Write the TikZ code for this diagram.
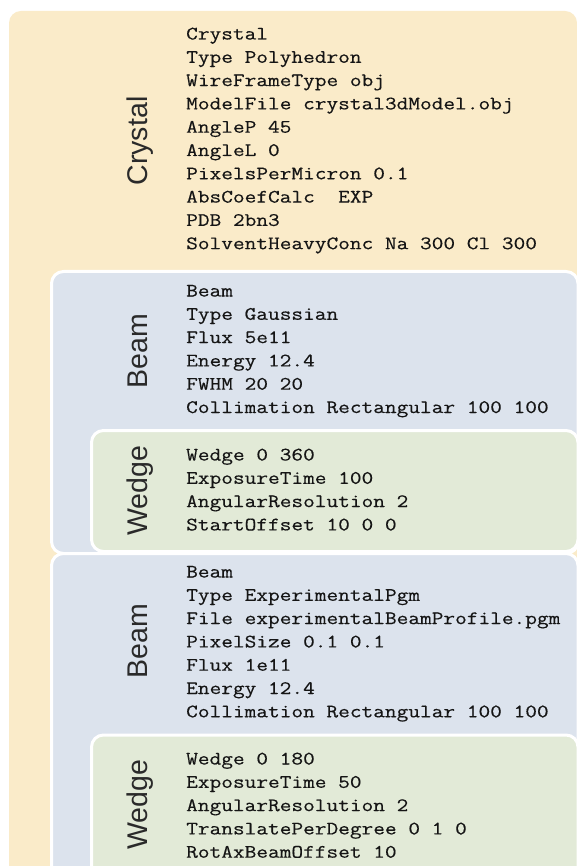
\documentclass[tikz,border=0pt]{standalone}
\usepackage{fontspec}
\setmainfont{Liberation Sans}
\setmonofont{Latin Modern Mono}[FakeStretch=1.195,FakeBold=0.4]
\definecolor{crystalcol}{HTML}{FAEBC9}
\definecolor{beamcol}{HTML}{DCE3ED}
\definecolor{wedgecol}{HTML}{E2EAD7}
\definecolor{txtcol}{HTML}{151515}
\definecolor{lblcol}{HTML}{2A2A2A}
\tikzset{
  panel/.style={rounded corners=12pt},
  inner/.style={panel, draw=white, line width=3pt},
  lbl/.style={rotate=90, anchor=base, inner sep=0pt, text=lblcol,
    font=\fontsize{28.5}{30}\selectfont},
  code/.style={anchor=base west, inner sep=0pt, text=txtcol},
}
\newcommand{\codeblock}[1]{\parbox[t]{385pt}{\raggedright\ttfamily\fontsize{19}{23.3}\selectfont #1}}
\begin{document}
\begin{tikzpicture}[x=1pt,y=-1pt]
\clip (0,0) rectangle (577,866);
\fill[white] (0,0) rectangle (577,866);
% panels
\fill[crystalcol, panel] (9,11) rectangle (577,900);
\filldraw[fill=beamcol, inner] (51.5,271.5) rectangle (578,553.5);
\filldraw[fill=wedgecol, inner] (91.5,430.5) rectangle (578,551.5);
\filldraw[fill=beamcol, inner] (51.5,553.5) rectangle (578,900);
\filldraw[fill=wedgecol, inner] (91.5,735) rectangle (578,900);
% labels
\node[lbl] (lcrystal) at (147,141) {Crystal};
\node[lbl] (lbeam1) at (147,351) {Beam};
\node[lbl] (lwedge1) at (147,491) {Wedge};
\node[lbl] (lbeam2) at (147,641) {Beam};
\node[lbl] (lwedge2) at (147,805) {Wedge};
% code blocks
\node[code] (tcrystal) at (186,39.5) {\codeblock{Crystal\\
Type Polyhedron\\
WireFrameType obj\\
ModelFile crystal3dModel.obj\\
AngleP 45\\
AngleL 0\\
PixelsPerMicron 0.1\\
AbsCoefCalc\ \ EXP\\
PDB 2bn3\\
SolventHeavyConc Na 300 Cl 300}};
\node[code] (tbeam1) at (186,296.5) {\codeblock{Beam\\
Type Gaussian\\
Flux 5e11\\
Energy 12.4\\
FWHM 20 20\\
Collimation Rectangular 100 100}};
\node[code] (twedge1) at (186,460.5) {\codeblock{Wedge 0 360\\
ExposureTime 100\\
AngularResolution 2\\
StartOffset 10 0 0}};
\node[code] (tbeam2) at (186,577.5) {\codeblock{Beam\\
Type ExperimentalPgm\\
File experimentalBeamProfile.pgm\\
PixelSize 0.1 0.1\\
Flux 1e11\\
Energy 12.4\\
Collimation Rectangular 100 100}};
\node[code] (twedge2) at (186,764.5) {\codeblock{Wedge 0 180\\
ExposureTime 50\\
AngularResolution 2\\
TranslatePerDegree 0 1 0\\
RotAxBeamOffset 10}};
\end{tikzpicture}
\end{document}
